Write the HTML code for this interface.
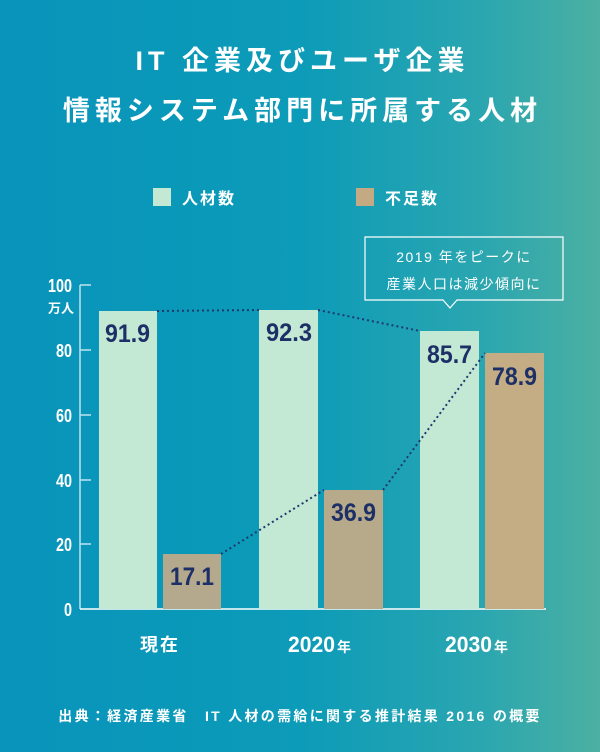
<!DOCTYPE html>
<html><head><meta charset="utf-8"><style>
body{margin:0}
.c{position:relative;width:600px;height:752px;overflow:hidden;background:linear-gradient(90deg,#0894bb 0%,#0c9bb8 50%,#2aa6b0 80%,#4cb0a2 100%);font-family:"Liberation Sans","Noto Sans CJK JP",sans-serif;color:#fff}
.t{position:absolute;left:0;width:600px;text-align:center;font-weight:bold;font-size:27px;letter-spacing:5px;text-indent:5px}
</style></head><body><div class="c">
<div class="t" style="top:39px">IT 企業及びユーザ企業</div>
<div class="t" style="top:89px">情報システム部門に所属する人材</div>
<div style="position:absolute;top:188px;left:153px;width:18px;height:18px;background:#c3e8d3"></div>
<div style="position:absolute;top:185px;left:182px;font-size:16px;font-weight:bold;letter-spacing:2px">人材数</div>
<div style="position:absolute;top:188px;left:356px;width:18px;height:18px;background:#c3aa82"></div>
<div style="position:absolute;top:185px;left:385px;font-size:16px;font-weight:bold;letter-spacing:2px">不足数</div>
<svg width="600" height="752" style="position:absolute;left:0;top:0">
<g fill="none" stroke="#bfe3ee" stroke-width="1.5">
<line x1="80" y1="285" x2="80" y2="609"/>
<line x1="80" y1="285" x2="91" y2="285"/><line x1="80" y1="350" x2="91" y2="350"/><line x1="80" y1="415" x2="91" y2="415"/><line x1="80" y1="480" x2="91" y2="480"/><line x1="80" y1="544" x2="91" y2="544"/>
<line x1="80" y1="609" x2="546" y2="609" stroke="#fff"/>
</g>
<g font-weight="bold" font-size="18" fill="#fff" text-anchor="end">
<text x="72" y="292" textLength="24" lengthAdjust="spacingAndGlyphs">100</text><text x="72" y="357" textLength="16" lengthAdjust="spacingAndGlyphs">80</text><text x="72" y="422" textLength="16" lengthAdjust="spacingAndGlyphs">60</text><text x="72" y="487" textLength="16" lengthAdjust="spacingAndGlyphs">40</text><text x="72" y="551" textLength="16" lengthAdjust="spacingAndGlyphs">20</text><text x="72" y="616" textLength="8" lengthAdjust="spacingAndGlyphs">0</text></g>
<text x="74" y="313" font-size="13" font-weight="bold" fill="#fff" text-anchor="end">万人</text>
<g fill="#c3e8d3"><rect x="99" y="311" width="58" height="298"/><rect x="259" y="310" width="59" height="299"/><rect x="420" y="331" width="59" height="278"/></g>
<rect x="163" y="554" width="58" height="55" fill="#b4a98c"/><rect x="324" y="490" width="59" height="119" fill="#b7aa8a"/><rect x="485" y="353" width="59" height="256" fill="#c4ac84"/>
<g stroke="#1c3a6e" stroke-width="2" stroke-dasharray="2,3" fill="none">
<line x1="157" y1="311" x2="259" y2="310"/><line x1="318" y1="310" x2="420" y2="331"/>
<line x1="221" y1="554" x2="324" y2="490"/><line x1="383" y1="490" x2="485" y2="353"/></g>
<g font-weight="bold" font-size="25" fill="#1c2f66">
<text x="105" y="342" textLength="45" lengthAdjust="spacingAndGlyphs">91.9</text><text x="266" y="341" textLength="46" lengthAdjust="spacingAndGlyphs">92.3</text><text x="427" y="363" textLength="45" lengthAdjust="spacingAndGlyphs">85.7</text>
<text x="170" y="585" textLength="44" lengthAdjust="spacingAndGlyphs">17.1</text><text x="331" y="521" textLength="45" lengthAdjust="spacingAndGlyphs">36.9</text><text x="492" y="385" textLength="45" lengthAdjust="spacingAndGlyphs">78.9</text></g>
<path d="M365 237 H563 V300 H457 L450 308 L443 300 H365 Z" fill="none" stroke="#fff" stroke-width="1.2"/>
<g font-size="14" fill="#fff" text-anchor="middle" letter-spacing="1.5">
<text x="464" y="262">2019 年をピークに</text><text x="464" y="289">産業人口は減少傾向に</text></g>
<g font-weight="bold" fill="#fff">
<text x="140" y="651" font-size="18" letter-spacing="2">現在</text>
<text x="288" y="652" font-size="22" textLength="47" lengthAdjust="spacingAndGlyphs">2020</text><text x="337" y="652" font-size="14">年</text>
<text x="445" y="652" font-size="22" textLength="47" lengthAdjust="spacingAndGlyphs">2030</text><text x="494" y="652" font-size="14">年</text></g>
<text x="300" y="721" font-size="14" font-weight="bold" fill="#fff" text-anchor="middle" letter-spacing="2.3">出典：経済産業省　IT 人材の需給に関する推計結果 2016 の概要</text>
</svg>
</div></body></html>
